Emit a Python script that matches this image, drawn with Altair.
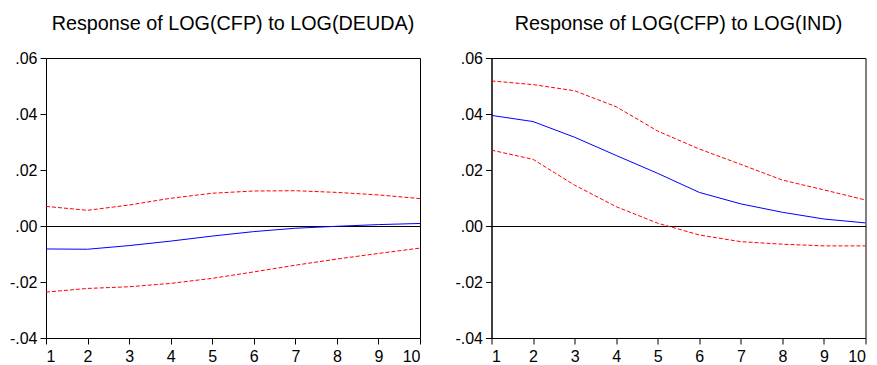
import altair as alt
import pandas as pd

steps = list(range(1, 11))

titles = ["Response of LOG(CFP) to LOG(DEUDA)", "Response of LOG(CFP) to LOG(IND)"]

deuda_resp = [-0.0082, -0.0083, -0.0070, -0.0054, -0.0036, -0.0020, -0.0008, -0.0001, 0.0005, 0.0009]
deuda_upper = [0.0070, 0.0056, 0.0075, 0.0099, 0.0117, 0.0125, 0.0126, 0.0120, 0.0111, 0.0098]
deuda_lower = [-0.0236, -0.0223, -0.0217, -0.0205, -0.0187, -0.0164, -0.0140, -0.0118, -0.0098, -0.0079]

ind_resp = [0.0395, 0.0373, 0.0317, 0.0252, 0.0188, 0.0120, 0.0079, 0.0049, 0.0025, 0.0011]
ind_upper = [0.0518, 0.0505, 0.0483, 0.0426, 0.0339, 0.0275, 0.0220, 0.0164, 0.0129, 0.0093]
ind_lower = [0.0271, 0.0238, 0.0146, 0.0069, 0.0010, -0.0032, -0.0056, -0.0065, -0.0071, -0.0071]

y_ticks = [-0.04, -0.02, 0.0, 0.02, 0.04, 0.06]

FONT = "Liberation Sans"
LABEL_EXPR = ("datum.value < 0 ? '-' + substring(format(-datum.value, '.2f'), 1)"
              " : substring(format(datum.value, '.2f'), 1)")


def panel(title, resp, upper, lower):
    df = pd.DataFrame({"step": steps, "resp": resp, "upper": upper, "lower": lower})
    base = alt.Chart(df)
    x = alt.X("step:Q",
              scale=alt.Scale(domain=[1, 10], nice=False, zero=False),
              axis=alt.Axis(values=steps, title=None, grid=False, format="d",
                            tickSize=6, labelPadding=4, domainColor="black",
                            tickColor="black", labelColor="black",
                            labelFont=FONT, labelFontSize=16))
    yaxis = alt.Axis(values=y_ticks, title=None, grid=False, labelExpr=LABEL_EXPR,
                     tickSize=6, labelPadding=3, domainColor="black",
                     tickColor="black", labelColor="black",
                     labelFont=FONT, labelFontSize=16)
    yscale = alt.Scale(domain=[-0.04, 0.06], nice=False)

    zero = base.mark_rule(color="black", strokeWidth=1, yOffset=0.5).encode(
        y=alt.datum(0, scale=yscale, axis=yaxis))
    up = base.mark_line(color="#FF0000", strokeWidth=1, strokeDash=[4, 2]).encode(
        x=x, y=alt.Y("upper:Q", scale=yscale, axis=yaxis))
    lo = base.mark_line(color="#FF0000", strokeWidth=1, strokeDash=[4, 2]).encode(
        x=x, y=alt.Y("lower:Q", scale=yscale, axis=yaxis))
    mid = base.mark_line(color="#0000FF", strokeWidth=1).encode(
        x=x, y=alt.Y("resp:Q", scale=yscale, axis=yaxis))
    return alt.layer(zero, up, lo, mid).properties(
        width=374, height=280,
        title=alt.TitleParams(title, font=FONT, fontSize=19.8, fontWeight="normal",
                              color="black", anchor="middle", offset=16))


chart = alt.hconcat(
    panel(titles[0], deuda_resp, deuda_upper, deuda_lower),
    panel(titles[1], ind_resp, ind_upper, ind_lower),
    spacing=30.5,
).properties(
    padding={"left": 0, "top": 5, "right": 0, "bottom": 0}
).configure_view(stroke="black", strokeWidth=1).configure_axis(domainWidth=1, tickWidth=1)

chart.save("out.html", embed_options={"renderer": "svg", "actions": False})
